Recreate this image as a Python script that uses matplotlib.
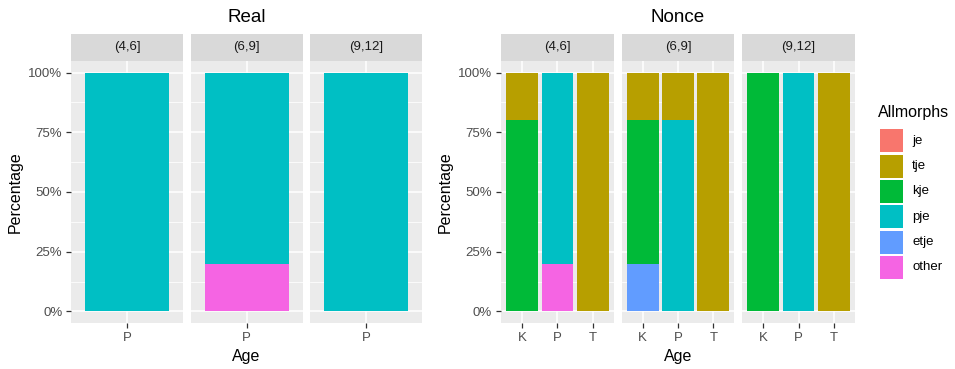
import matplotlib as mpl
mpl.use('Agg')
import matplotlib.pyplot as plt
import numpy as np

plt.rcParams['font.family'] = ['Liberation Sans', 'DejaVu Sans']

# allomorph levels and their hue colours (first level sits on top of the stack)
morphs = ['je', 'tje', 'kje', 'pje', 'etje', 'other']
colors = ['#F8766D', '#B79F00', '#00BA38', '#00BFC4', '#619CFF', '#F564E3']
ages = ['(4,6]', '(6,9]', '(9,12]']

real_groups = ['P']
nonce_groups = ['K', 'P', 'T']

# real words: one bar (P) per age band
real = {
    'je':    [[0.0], [0.0], [0.0]],
    'tje':   [[0.0], [0.0], [0.0]],
    'kje':   [[0.0], [0.0], [0.0]],
    'pje':   [[1.0], [0.8], [1.0]],
    'etje':  [[0.0], [0.0], [0.0]],
    'other': [[0.0], [0.2], [0.0]],
}

# nonce words: K, P, T bars per age band
nonce = {
    'je':    [[0.0, 0.0, 0.0], [0.0, 0.0, 0.0], [0.0, 0.0, 0.0]],
    'tje':   [[0.2, 0.0, 1.0], [0.2, 0.2, 1.0], [0.0, 0.0, 1.0]],
    'kje':   [[0.8, 0.0, 0.0], [0.6, 0.0, 0.0], [1.0, 0.0, 0.0]],
    'pje':   [[0.0, 0.8, 0.0], [0.0, 0.8, 0.0], [0.0, 1.0, 0.0]],
    'etje':  [[0.0, 0.0, 0.0], [0.2, 0.0, 0.0], [0.0, 0.0, 0.0]],
    'other': [[0.0, 0.2, 0.0], [0.0, 0.0, 0.0], [0.0, 0.0, 0.0]],
}

W, H = 955, 369
fig = plt.figure(figsize=(W / 100, H / 100), dpi=100)
fig.patch.set_facecolor('white')

def fx(px):
    return px / W

def fy(px):
    return (H - px) / H

panel_top, panel_bot, strip_top = 60.7, 323.3, 34.0
grey_txt = '#4D4D4D'


def facet_block(x0, x1, data, groups, title, show_y):
    gap = 7.8
    fw = (x1 - x0 - 2 * gap) / 3
    for i, age in enumerate(ages):
        left = x0 + i * (fw + gap)
        ax = fig.add_axes([fx(left), fy(panel_bot), fw / W, (panel_bot - panel_top) / H])
        ax.set_facecolor('#EBEBEB')
        for s in ax.spines.values():
            s.set_visible(False)
        n = len(groups)
        pos = np.arange(n)
        ax.set_xlim(-0.6, n - 0.4)
        ax.set_ylim(-0.05, 1.05)
        for v in [0.125, 0.375, 0.625, 0.875]:
            ax.axhline(v, color='white', lw=0.55, zorder=0)
        for v in [0, 0.25, 0.5, 0.75, 1.0]:
            ax.axhline(v, color='white', lw=1.1, zorder=0)
        for p in pos:
            ax.axvline(p, color='white', lw=1.1, zorder=0)
        bottom = np.zeros(n)
        for m, c in reversed(list(zip(morphs, colors))):
            vals = np.array(data[m][i])
            ax.bar(pos, vals, width=0.9, bottom=bottom, color=c, lw=0, zorder=2)
            bottom += vals
        ax.set_xticks(pos)
        ax.set_xticklabels(groups)
        ax.set_yticks([0, 0.25, 0.5, 0.75, 1.0])
        ax.tick_params(axis='both', colors='#333333', length=3.5, width=0.9,
                       labelcolor=grey_txt, labelsize=9.5, pad=3)
        if i == 0:
            ax.set_yticklabels(['0%', '25%', '50%', '75%', '100%'])
            ax.set_ylabel('Percentage', fontsize=11.5, color='black', labelpad=4)
        else:
            ax.tick_params(axis='y', left=False, labelleft=False)
        # facet strip
        sax = fig.add_axes([fx(left), fy(panel_top), fw / W, (panel_top - strip_top) / H])
        sax.set_facecolor('#D9D9D9')
        sax.set_xticks([])
        sax.set_yticks([])
        for s in sax.spines.values():
            s.set_visible(False)
        sax.text(0.5, 0.5, age, ha='center', va='center', fontsize=9.5, color='#1A1A1A',
                 transform=sax.transAxes)
    cx = (x0 + x1) / 2
    fig.text(fx(cx), fy(17), title, ha='center', va='center', fontsize=13.5)
    fig.text(fx(cx), fy(356), 'Age', ha='center', va='center', fontsize=11.5)


facet_block(71.3, 422.0, real, real_groups, 'Real', True)
facet_block(501.0, 855.0, nonce, nonce_groups, 'Nonce', True)

# legend
fig.text(fx(878), fy(113), 'Allmorphs', ha='left', va='center', fontsize=11.5)
for k, (m, c) in enumerate(zip(morphs, colors)):
    top = 129.3 + 25.3 * k
    fig.patches.append(plt.Rectangle((fx(880), fy(top + 23)), 23 / W, 23 / H,
                                     transform=fig.transFigure, color=c, lw=0))
    fig.text(fx(912), fy(top + 11.5), m, ha='left', va='center', fontsize=9.5)

fig.savefig('out.png', dpi=100)
